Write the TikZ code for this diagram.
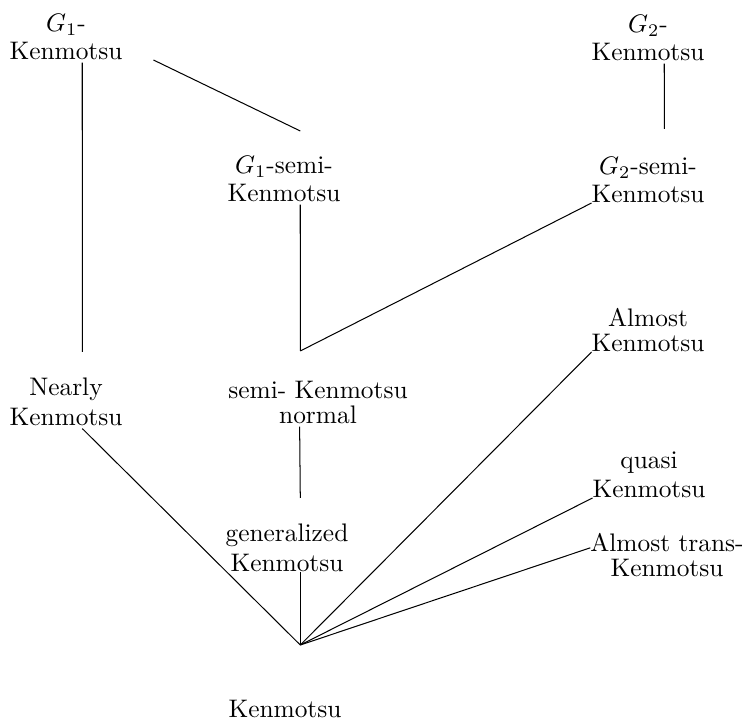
\documentclass[tikz,border=0pt]{standalone}
\begin{document}
\begin{tikzpicture}[x=0.394pt,y=-0.394pt,
  lbl/.style={inner sep=0pt,outer sep=0pt,anchor=base},
  conn/.style={line width=0.4pt,black}]
\useasboundingbox (0,0) rectangle (748,726);
% nodes (center x, baseline of last line)
\node[lbl] (g1)   at (66,60)   {\shortstack{$G_1$-\\Kenmotsu}};
\node[lbl] (g2)   at (648,61)  {\shortstack{$G_2$-\\Kenmotsu}};
\node[lbl] (g1s)  at (284,202) {\shortstack{$G_1$-semi-\\Kenmotsu}};
\node[lbl] (g2s)  at (648,203) {\shortstack{$G_2$-semi-\\Kenmotsu}};
\node[lbl] (alm)  at (648,352) {\shortstack{Almost\\Kenmotsu}};
\node[lbl] (near) at (66,426)  {\shortstack{Nearly\\Kenmotsu}};
\node[lbl] (semi) at (318,424) {\shortstack{semi- Kenmotsu\\normal}};
\node[lbl] (qua)  at (649,498) {\shortstack{quasi\\Kenmotsu}};
\node[lbl] (gen)  at (287,572) {\shortstack{generalized\\Kenmotsu}};
\node[lbl] (tra)  at (667,577) {\shortstack{Almost trans-\\Kenmotsu}};
\node[lbl] (ken)  at (285,718) {Kenmotsu};
% free ends
\coordinate (a1)  at (82.3,352);
\coordinate (b2)  at (300.3,131);
\coordinate (c1)  at (664.3,129);
\coordinate (v)   at (300.3,351);
\coordinate (d1)  at (300.3,498);
\coordinate (hub) at (300.3,645);
% connectors
\draw[conn] ([xshift=6.4pt,yshift=-1pt]g1.base) -- (a1);
\draw[conn] ([xshift=12.2pt]g1.base east) -- (b2);
\draw[conn] ([xshift=6.4pt,yshift=-1pt]g2.base) -- (c1);
\draw[conn] ([xshift=6.4pt,yshift=-1pt]g1s.base) -- (v);
\draw[conn] (g2s.base west) -- (v);
\draw[conn] ([xshift=-7.24pt,yshift=-1pt]semi.base) -- (d1);
\draw[conn] ([xshift=6.4pt,yshift=-1pt]near.base) -- (hub);
\draw[conn] (gen.base -| hub) -- (hub);
\draw[conn] (alm.base west) -- (hub);
\draw[conn] (qua.base west) -- (hub);
\draw[conn] ([yshift=11.5pt]tra.base west) -- (hub);
\end{tikzpicture}
\end{document}
